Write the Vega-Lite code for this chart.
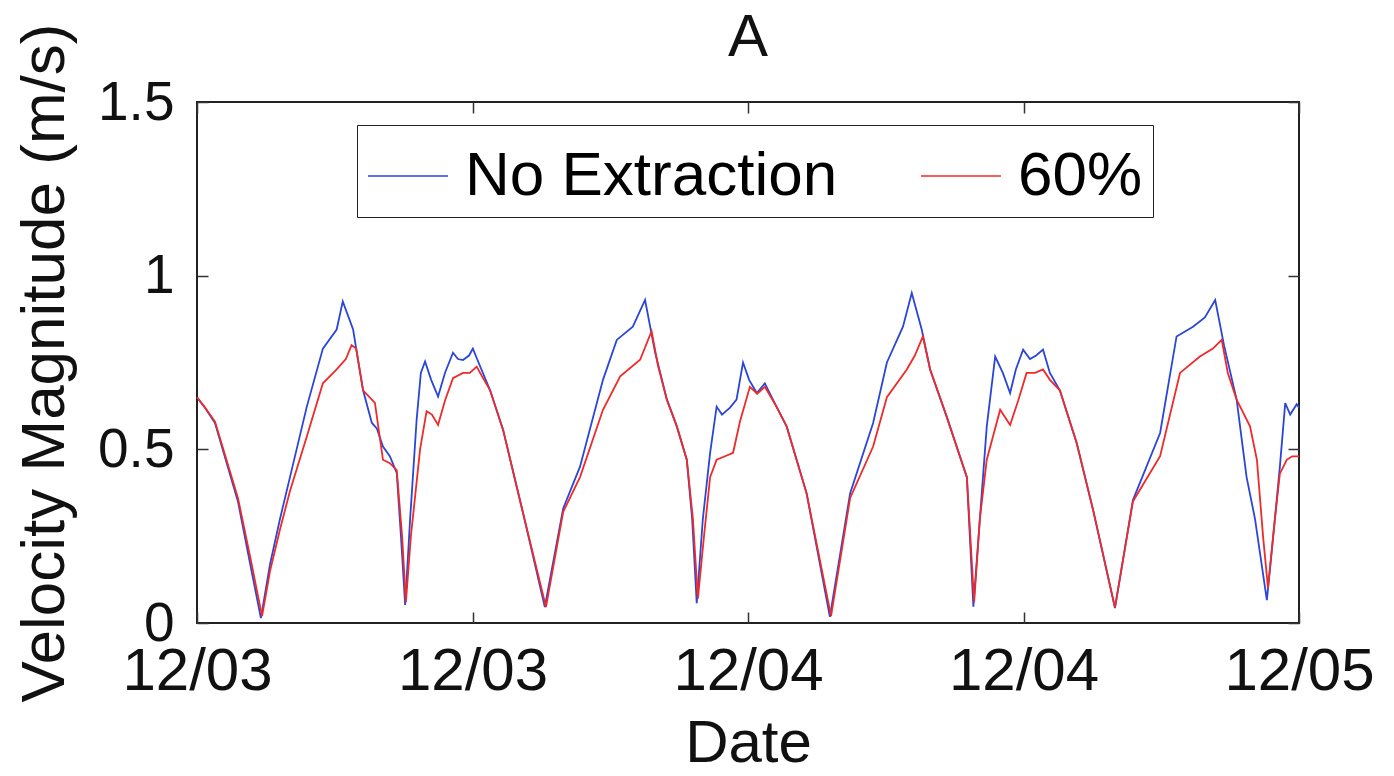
{
  "$schema": "https://vega.github.io/schema/vega-lite/v6.json",
  "autosize": {"type": "none"},
  "width": 1102,
  "height": 521,
  "padding": {"left": 197, "top": 102, "right": 95, "bottom": 153},
  "background": "white",
  "config": {
    "font": "Liberation Sans",
    "view": {"stroke": "#222222", "strokeWidth": 2},
    "axis": {"grid": false, "domain": false, "tickColor": "#333333", "tickWidth": 1.5, "tickSize": -11, "labelColor": "#111111", "titleColor": "#111111", "titleFontWeight": "normal"}
  },
  "title": {"text": "A", "fontSize": 60, "fontWeight": "normal", "color": "#111111", "offset": -46, "anchor": "middle", "frame": "group"},
  "data": {"values": [
    {"t": "2013-12-03T00:00", "v": 0.65, "s": "No Extraction"},
    {"t": "2013-12-03T00:21", "v": 0.62, "s": "No Extraction"},
    {"t": "2013-12-03T00:47", "v": 0.576, "s": "No Extraction"},
    {"t": "2013-12-03T01:47", "v": 0.35, "s": "No Extraction"},
    {"t": "2013-12-03T02:19", "v": 0.17, "s": "No Extraction"},
    {"t": "2013-12-03T02:47", "v": 0.014, "s": "No Extraction"},
    {"t": "2013-12-03T03:11", "v": 0.17, "s": "No Extraction"},
    {"t": "2013-12-03T03:37", "v": 0.30, "s": "No Extraction"},
    {"t": "2013-12-03T04:03", "v": 0.42, "s": "No Extraction"},
    {"t": "2013-12-03T04:47", "v": 0.623, "s": "No Extraction"},
    {"t": "2013-12-03T05:29", "v": 0.79, "s": "No Extraction"},
    {"t": "2013-12-03T06:05", "v": 0.845, "s": "No Extraction"},
    {"t": "2013-12-03T06:21", "v": 0.926, "s": "No Extraction"},
    {"t": "2013-12-03T06:48", "v": 0.845, "s": "No Extraction"},
    {"t": "2013-12-03T06:56", "v": 0.79, "s": "No Extraction"},
    {"t": "2013-12-03T07:14", "v": 0.67, "s": "No Extraction"},
    {"t": "2013-12-03T07:37", "v": 0.576, "s": "No Extraction"},
    {"t": "2013-12-03T07:50", "v": 0.56, "s": "No Extraction"},
    {"t": "2013-12-03T08:06", "v": 0.508, "s": "No Extraction"},
    {"t": "2013-12-03T08:24", "v": 0.48, "s": "No Extraction"},
    {"t": "2013-12-03T08:42", "v": 0.432, "s": "No Extraction"},
    {"t": "2013-12-03T08:53", "v": 0.25, "s": "No Extraction"},
    {"t": "2013-12-03T09:04", "v": 0.052, "s": "No Extraction"},
    {"t": "2013-12-03T09:17", "v": 0.30, "s": "No Extraction"},
    {"t": "2013-12-03T09:34", "v": 0.585, "s": "No Extraction"},
    {"t": "2013-12-03T09:45", "v": 0.72, "s": "No Extraction"},
    {"t": "2013-12-03T09:56", "v": 0.753, "s": "No Extraction"},
    {"t": "2013-12-03T10:12", "v": 0.70, "s": "No Extraction"},
    {"t": "2013-12-03T10:30", "v": 0.652, "s": "No Extraction"},
    {"t": "2013-12-03T10:48", "v": 0.72, "s": "No Extraction"},
    {"t": "2013-12-03T11:09", "v": 0.778, "s": "No Extraction"},
    {"t": "2013-12-03T11:22", "v": 0.76, "s": "No Extraction"},
    {"t": "2013-12-03T11:35", "v": 0.757, "s": "No Extraction"},
    {"t": "2013-12-03T11:51", "v": 0.77, "s": "No Extraction"},
    {"t": "2013-12-03T12:01", "v": 0.79, "s": "No Extraction"},
    {"t": "2013-12-03T12:12", "v": 0.76, "s": "No Extraction"},
    {"t": "2013-12-03T12:46", "v": 0.67, "s": "No Extraction"},
    {"t": "2013-12-03T13:20", "v": 0.556, "s": "No Extraction"},
    {"t": "2013-12-03T14:12", "v": 0.317, "s": "No Extraction"},
    {"t": "2013-12-03T15:09", "v": 0.046, "s": "No Extraction"},
    {"t": "2013-12-03T15:57", "v": 0.33, "s": "No Extraction"},
    {"t": "2013-12-03T16:41", "v": 0.45, "s": "No Extraction"},
    {"t": "2013-12-03T17:41", "v": 0.70, "s": "No Extraction"},
    {"t": "2013-12-03T18:17", "v": 0.815, "s": "No Extraction"},
    {"t": "2013-12-03T18:59", "v": 0.853, "s": "No Extraction"},
    {"t": "2013-12-03T19:31", "v": 0.93, "s": "No Extraction"},
    {"t": "2013-12-03T19:57", "v": 0.78, "s": "No Extraction"},
    {"t": "2013-12-03T20:28", "v": 0.643, "s": "No Extraction"},
    {"t": "2013-12-03T20:54", "v": 0.566, "s": "No Extraction"},
    {"t": "2013-12-03T21:20", "v": 0.47, "s": "No Extraction"},
    {"t": "2013-12-03T21:34", "v": 0.30, "s": "No Extraction"},
    {"t": "2013-12-03T21:46", "v": 0.057, "s": "No Extraction"},
    {"t": "2013-12-03T22:02", "v": 0.30, "s": "No Extraction"},
    {"t": "2013-12-03T22:21", "v": 0.49, "s": "No Extraction"},
    {"t": "2013-12-03T22:38", "v": 0.623, "s": "No Extraction"},
    {"t": "2013-12-03T22:52", "v": 0.60, "s": "No Extraction"},
    {"t": "2013-12-03T23:13", "v": 0.62, "s": "No Extraction"},
    {"t": "2013-12-03T23:30", "v": 0.643, "s": "No Extraction"},
    {"t": "2013-12-03T23:47", "v": 0.75, "s": "No Extraction"},
    {"t": "2013-12-04T00:03", "v": 0.70, "s": "No Extraction"},
    {"t": "2013-12-04T00:23", "v": 0.662, "s": "No Extraction"},
    {"t": "2013-12-04T00:44", "v": 0.69, "s": "No Extraction"},
    {"t": "2013-12-04T01:11", "v": 0.63, "s": "No Extraction"},
    {"t": "2013-12-04T01:41", "v": 0.566, "s": "No Extraction"},
    {"t": "2013-12-04T02:33", "v": 0.374, "s": "No Extraction"},
    {"t": "2013-12-04T03:34", "v": 0.018, "s": "No Extraction"},
    {"t": "2013-12-04T04:27", "v": 0.374, "s": "No Extraction"},
    {"t": "2013-12-04T05:27", "v": 0.576, "s": "No Extraction"},
    {"t": "2013-12-04T06:03", "v": 0.75, "s": "No Extraction"},
    {"t": "2013-12-04T06:45", "v": 0.853, "s": "No Extraction"},
    {"t": "2013-12-04T07:08", "v": 0.95, "s": "No Extraction"},
    {"t": "2013-12-04T07:34", "v": 0.845, "s": "No Extraction"},
    {"t": "2013-12-04T07:56", "v": 0.73, "s": "No Extraction"},
    {"t": "2013-12-04T08:39", "v": 0.595, "s": "No Extraction"},
    {"t": "2013-12-04T09:32", "v": 0.42, "s": "No Extraction"},
    {"t": "2013-12-04T09:49", "v": 0.047, "s": "No Extraction"},
    {"t": "2013-12-04T10:06", "v": 0.30, "s": "No Extraction"},
    {"t": "2013-12-04T10:24", "v": 0.566, "s": "No Extraction"},
    {"t": "2013-12-04T10:46", "v": 0.767, "s": "No Extraction"},
    {"t": "2013-12-04T11:06", "v": 0.72, "s": "No Extraction"},
    {"t": "2013-12-04T11:25", "v": 0.662, "s": "No Extraction"},
    {"t": "2013-12-04T11:40", "v": 0.73, "s": "No Extraction"},
    {"t": "2013-12-04T11:59", "v": 0.787, "s": "No Extraction"},
    {"t": "2013-12-04T12:17", "v": 0.76, "s": "No Extraction"},
    {"t": "2013-12-04T12:33", "v": 0.77, "s": "No Extraction"},
    {"t": "2013-12-04T12:51", "v": 0.787, "s": "No Extraction"},
    {"t": "2013-12-04T13:09", "v": 0.72, "s": "No Extraction"},
    {"t": "2013-12-04T13:35", "v": 0.67, "s": "No Extraction"},
    {"t": "2013-12-04T14:19", "v": 0.518, "s": "No Extraction"},
    {"t": "2013-12-04T15:02", "v": 0.325, "s": "No Extraction"},
    {"t": "2013-12-04T15:59", "v": 0.043, "s": "No Extraction"},
    {"t": "2013-12-04T16:46", "v": 0.354, "s": "No Extraction"},
    {"t": "2013-12-04T17:57", "v": 0.547, "s": "No Extraction"},
    {"t": "2013-12-04T18:40", "v": 0.825, "s": "No Extraction"},
    {"t": "2013-12-04T19:23", "v": 0.853, "s": "No Extraction"},
    {"t": "2013-12-04T19:54", "v": 0.88, "s": "No Extraction"},
    {"t": "2013-12-04T20:21", "v": 0.93, "s": "No Extraction"},
    {"t": "2013-12-04T20:44", "v": 0.80, "s": "No Extraction"},
    {"t": "2013-12-04T21:17", "v": 0.643, "s": "No Extraction"},
    {"t": "2013-12-04T21:43", "v": 0.42, "s": "No Extraction"},
    {"t": "2013-12-04T22:05", "v": 0.30, "s": "No Extraction"},
    {"t": "2013-12-04T22:36", "v": 0.066, "s": "No Extraction"},
    {"t": "2013-12-04T22:57", "v": 0.30, "s": "No Extraction"},
    {"t": "2013-12-04T23:10", "v": 0.45, "s": "No Extraction"},
    {"t": "2013-12-04T23:24", "v": 0.633, "s": "No Extraction"},
    {"t": "2013-12-04T23:37", "v": 0.60, "s": "No Extraction"},
    {"t": "2013-12-04T23:54", "v": 0.63, "s": "No Extraction"},
    {"t": "2013-12-05T00:00", "v": 0.62, "s": "No Extraction"},
    {"t": "2013-12-03T00:00", "v": 0.65, "s": "60%"},
    {"t": "2013-12-03T00:21", "v": 0.62, "s": "60%"},
    {"t": "2013-12-03T00:47", "v": 0.58, "s": "60%"},
    {"t": "2013-12-03T01:47", "v": 0.36, "s": "60%"},
    {"t": "2013-12-03T02:19", "v": 0.19, "s": "60%"},
    {"t": "2013-12-03T02:50", "v": 0.02, "s": "60%"},
    {"t": "2013-12-03T03:11", "v": 0.15, "s": "60%"},
    {"t": "2013-12-03T03:37", "v": 0.27, "s": "60%"},
    {"t": "2013-12-03T04:03", "v": 0.38, "s": "60%"},
    {"t": "2013-12-03T04:47", "v": 0.537, "s": "60%"},
    {"t": "2013-12-03T05:29", "v": 0.69, "s": "60%"},
    {"t": "2013-12-03T06:05", "v": 0.73, "s": "60%"},
    {"t": "2013-12-03T06:29", "v": 0.76, "s": "60%"},
    {"t": "2013-12-03T06:44", "v": 0.80, "s": "60%"},
    {"t": "2013-12-03T06:56", "v": 0.79, "s": "60%"},
    {"t": "2013-12-03T07:14", "v": 0.67, "s": "60%"},
    {"t": "2013-12-03T07:45", "v": 0.634, "s": "60%"},
    {"t": "2013-12-03T08:06", "v": 0.47, "s": "60%"},
    {"t": "2013-12-03T08:24", "v": 0.46, "s": "60%"},
    {"t": "2013-12-03T08:42", "v": 0.44, "s": "60%"},
    {"t": "2013-12-03T08:56", "v": 0.25, "s": "60%"},
    {"t": "2013-12-03T09:06", "v": 0.06, "s": "60%"},
    {"t": "2013-12-03T09:19", "v": 0.25, "s": "60%"},
    {"t": "2013-12-03T09:43", "v": 0.50, "s": "60%"},
    {"t": "2013-12-03T10:00", "v": 0.61, "s": "60%"},
    {"t": "2013-12-03T10:14", "v": 0.60, "s": "60%"},
    {"t": "2013-12-03T10:30", "v": 0.57, "s": "60%"},
    {"t": "2013-12-03T10:48", "v": 0.64, "s": "60%"},
    {"t": "2013-12-03T11:09", "v": 0.705, "s": "60%"},
    {"t": "2013-12-03T11:35", "v": 0.72, "s": "60%"},
    {"t": "2013-12-03T11:53", "v": 0.72, "s": "60%"},
    {"t": "2013-12-03T12:11", "v": 0.738, "s": "60%"},
    {"t": "2013-12-03T12:25", "v": 0.71, "s": "60%"},
    {"t": "2013-12-03T12:46", "v": 0.67, "s": "60%"},
    {"t": "2013-12-03T13:20", "v": 0.556, "s": "60%"},
    {"t": "2013-12-03T14:12", "v": 0.317, "s": "60%"},
    {"t": "2013-12-03T15:12", "v": 0.046, "s": "60%"},
    {"t": "2013-12-03T15:57", "v": 0.32, "s": "60%"},
    {"t": "2013-12-03T16:41", "v": 0.42, "s": "60%"},
    {"t": "2013-12-03T17:41", "v": 0.614, "s": "60%"},
    {"t": "2013-12-03T18:26", "v": 0.71, "s": "60%"},
    {"t": "2013-12-03T19:18", "v": 0.758, "s": "60%"},
    {"t": "2013-12-03T19:48", "v": 0.84, "s": "60%"},
    {"t": "2013-12-03T20:05", "v": 0.74, "s": "60%"},
    {"t": "2013-12-03T20:28", "v": 0.643, "s": "60%"},
    {"t": "2013-12-03T20:54", "v": 0.566, "s": "60%"},
    {"t": "2013-12-03T21:20", "v": 0.47, "s": "60%"},
    {"t": "2013-12-03T21:36", "v": 0.30, "s": "60%"},
    {"t": "2013-12-03T21:49", "v": 0.07, "s": "60%"},
    {"t": "2013-12-03T22:05", "v": 0.25, "s": "60%"},
    {"t": "2013-12-03T22:21", "v": 0.42, "s": "60%"},
    {"t": "2013-12-03T22:38", "v": 0.47, "s": "60%"},
    {"t": "2013-12-03T23:00", "v": 0.48, "s": "60%"},
    {"t": "2013-12-03T23:21", "v": 0.49, "s": "60%"},
    {"t": "2013-12-03T23:39", "v": 0.58, "s": "60%"},
    {"t": "2013-12-04T00:05", "v": 0.68, "s": "60%"},
    {"t": "2013-12-04T00:24", "v": 0.66, "s": "60%"},
    {"t": "2013-12-04T00:44", "v": 0.68, "s": "60%"},
    {"t": "2013-12-04T01:11", "v": 0.63, "s": "60%"},
    {"t": "2013-12-04T01:41", "v": 0.566, "s": "60%"},
    {"t": "2013-12-04T02:33", "v": 0.374, "s": "60%"},
    {"t": "2013-12-04T03:37", "v": 0.02, "s": "60%"},
    {"t": "2013-12-04T04:27", "v": 0.36, "s": "60%"},
    {"t": "2013-12-04T05:27", "v": 0.508, "s": "60%"},
    {"t": "2013-12-04T06:03", "v": 0.65, "s": "60%"},
    {"t": "2013-12-04T06:55", "v": 0.73, "s": "60%"},
    {"t": "2013-12-04T07:16", "v": 0.77, "s": "60%"},
    {"t": "2013-12-04T07:37", "v": 0.825, "s": "60%"},
    {"t": "2013-12-04T07:56", "v": 0.73, "s": "60%"},
    {"t": "2013-12-04T08:39", "v": 0.595, "s": "60%"},
    {"t": "2013-12-04T09:32", "v": 0.42, "s": "60%"},
    {"t": "2013-12-04T09:51", "v": 0.06, "s": "60%"},
    {"t": "2013-12-04T10:06", "v": 0.30, "s": "60%"},
    {"t": "2013-12-04T10:24", "v": 0.47, "s": "60%"},
    {"t": "2013-12-04T10:59", "v": 0.614, "s": "60%"},
    {"t": "2013-12-04T11:25", "v": 0.57, "s": "60%"},
    {"t": "2013-12-04T11:46", "v": 0.64, "s": "60%"},
    {"t": "2013-12-04T12:08", "v": 0.72, "s": "60%"},
    {"t": "2013-12-04T12:30", "v": 0.72, "s": "60%"},
    {"t": "2013-12-04T12:51", "v": 0.73, "s": "60%"},
    {"t": "2013-12-04T13:09", "v": 0.70, "s": "60%"},
    {"t": "2013-12-04T13:35", "v": 0.67, "s": "60%"},
    {"t": "2013-12-04T14:19", "v": 0.518, "s": "60%"},
    {"t": "2013-12-04T15:02", "v": 0.325, "s": "60%"},
    {"t": "2013-12-04T15:59", "v": 0.045, "s": "60%"},
    {"t": "2013-12-04T16:46", "v": 0.35, "s": "60%"},
    {"t": "2013-12-04T17:57", "v": 0.48, "s": "60%"},
    {"t": "2013-12-04T18:49", "v": 0.72, "s": "60%"},
    {"t": "2013-12-04T19:41", "v": 0.767, "s": "60%"},
    {"t": "2013-12-04T20:15", "v": 0.79, "s": "60%"},
    {"t": "2013-12-04T20:38", "v": 0.815, "s": "60%"},
    {"t": "2013-12-04T20:54", "v": 0.72, "s": "60%"},
    {"t": "2013-12-04T21:17", "v": 0.643, "s": "60%"},
    {"t": "2013-12-04T21:52", "v": 0.566, "s": "60%"},
    {"t": "2013-12-04T22:10", "v": 0.47, "s": "60%"},
    {"t": "2013-12-04T22:26", "v": 0.25, "s": "60%"},
    {"t": "2013-12-04T22:39", "v": 0.10, "s": "60%"},
    {"t": "2013-12-04T22:57", "v": 0.30, "s": "60%"},
    {"t": "2013-12-04T23:10", "v": 0.43, "s": "60%"},
    {"t": "2013-12-04T23:28", "v": 0.47, "s": "60%"},
    {"t": "2013-12-04T23:42", "v": 0.48, "s": "60%"},
    {"t": "2013-12-05T00:00", "v": 0.48, "s": "60%"}
  ]},
  "layer": [
    {
      "mark": {"type": "line", "strokeWidth": 1.8},
      "encoding": {
        "x": {"field": "t", "type": "temporal",
              "scale": {"domain": [{"year": 2013, "month": 12, "date": 3}, {"year": 2013, "month": 12, "date": 5}], "nice": false},
              "axis": {"orient": "bottom", "format": "%m/%d",
                       "values": [{"year": 2013, "month": 12, "date": 3, "hours": 0}, {"year": 2013, "month": 12, "date": 3, "hours": 12}, {"year": 2013, "month": 12, "date": 4, "hours": 0}, {"year": 2013, "month": 12, "date": 4, "hours": 12}, {"year": 2013, "month": 12, "date": 5, "hours": 0}],
                       "labelFontSize": 60, "labelPadding": 30, "labelFlush": false, "title": "Date", "titleFontSize": 60, "titlePadding": 13}},
        "y": {"field": "v", "type": "quantitative",
              "scale": {"domain": [0, 1.5], "nice": false},
              "axis": {"orient": "left", "values": [0, 0.5, 1, 1.5], "format": "~g", "labelFontSize": 55, "labelPadding": 34, "title": "Velocity Magnitude (m/s)", "titleFontSize": 62, "titlePadding": 21}},
        "color": {"field": "s", "type": "nominal",
                  "scale": {"domain": ["No Extraction", "60%"], "range": ["#2b45d8", "#ee2a2a"]},
                  "legend": {"orient": "none", "legendX": 160, "legendY": 23, "direction": "horizontal", "title": null,
                             "symbolType": "stroke", "symbolSize": 6400, "labelFontSize": 62, "labelLimit": 1000,
                             "padding": 10, "labelOffset": 16, "columnPadding": 80,
                             "strokeColor": "#222222", "fillColor": "white"}}
      }
    },
    {
      "mark": {"type": "line", "strokeOpacity": 0},
      "encoding": {
        "x": {"field": "t", "type": "temporal",
              "scale": {"domain": [{"year": 2013, "month": 12, "date": 3}, {"year": 2013, "month": 12, "date": 5}], "nice": false},
              "axis": {"orient": "top", "labels": false, "title": null,
                       "values": [{"year": 2013, "month": 12, "date": 3, "hours": 0}, {"year": 2013, "month": 12, "date": 3, "hours": 12}, {"year": 2013, "month": 12, "date": 4, "hours": 0}, {"year": 2013, "month": 12, "date": 4, "hours": 12}, {"year": 2013, "month": 12, "date": 5, "hours": 0}]}},
        "y": {"field": "v", "type": "quantitative",
              "scale": {"domain": [0, 1.5], "nice": false},
              "axis": {"orient": "right", "labels": false, "title": null, "values": [0, 0.5, 1, 1.5]}},
        "detail": {"field": "s", "type": "nominal"}
      }
    }
  ],
  "resolve": {"axis": {"x": "independent", "y": "independent"}}
}
